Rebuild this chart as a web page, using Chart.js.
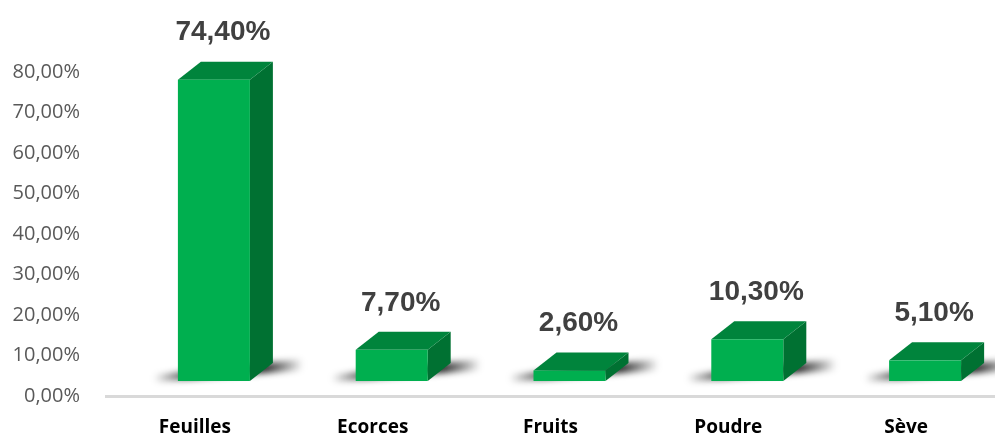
<!DOCTYPE html>
<html>
<head>
<meta charset="utf-8">
<script src="https://cdn.jsdelivr.net/npm/chart.js@4.4.0/dist/chart.umd.min.js"></script>
<style>
  html, body { margin: 0; padding: 0; background: #fff; }
  #wrap { width: 995px; height: 434px; }
</style>
</head>
<body>
<div id="wrap"><canvas id="partsChart"></canvas></div>
<script>
var categories = ["Feuilles", "Ecorces", "Fruits", "Poudre", "Sève"];
var shares = [74.4, 7.7, 2.6, 10.3, 5.1];
var yTicks = [0, 10, 20, 30, 40, 50, 60, 70, 80];

function pct(v) {
    return v.toFixed(2).replace(".", ",") + "%";
}

// bars are drawn as 3D blocks on top of the chart's bar elements
var blocks = {
    id: "blocks",
    afterDatasetsDraw: function (chart) {
        var ctx = chart.ctx;
        var meta = chart.getDatasetMeta(0);
        var shiftX = 19, shiftY = -15;   // floor offset of the 3D box
        var dx = 23, dy = -18;           // depth
        ctx.save();
        meta.data.forEach(function (bar) {
            var L = bar.x - bar.width / 2 + shiftX;
            var R = bar.x + bar.width / 2 + shiftX;
            var T = bar.y + shiftY;
            var B = bar.base + shiftY;

            // floor shadow
            ctx.save();
            ctx.filter = "blur(3px)";
            var g = ctx.createLinearGradient(L - 24, 0, R + dx + 30, 0);
            g.addColorStop(0, "rgba(0,0,0,0)");
            g.addColorStop(0.25, "rgba(20,20,20,0.9)");
            g.addColorStop(0.75, "rgba(20,20,20,0.9)");
            g.addColorStop(1, "rgba(0,0,0,0)");
            ctx.fillStyle = g;
            ctx.beginPath();
            ctx.moveTo(L - 24, B - 6);
            ctx.lineTo(R + dx + 30, B + dy - 4);
            ctx.lineTo(R + dx + 30, B + dy + 7);
            ctx.lineTo(L - 24, B + 1);
            ctx.closePath();
            ctx.fill();
            ctx.restore();

            // side face
            ctx.fillStyle = "#007132";
            ctx.beginPath();
            ctx.moveTo(R, T);
            ctx.lineTo(R + dx, T + dy);
            ctx.lineTo(R + dx, B + dy);
            ctx.lineTo(R, B);
            ctx.closePath();
            ctx.fill();

            // top face
            ctx.fillStyle = "#00843C";
            ctx.beginPath();
            ctx.moveTo(L, T);
            ctx.lineTo(L + dx, T + dy);
            ctx.lineTo(R + dx, T + dy);
            ctx.lineTo(R, T);
            ctx.closePath();
            ctx.fill();

            // front face
            ctx.fillStyle = "#00AF4F";
            ctx.fillRect(L, T, R - L, B - T);
        });

        ctx.fillStyle = "#404040";
        ctx.font = "bold 28px 'Liberation Sans', Arial, sans-serif";
        ctx.textAlign = "center";
        ctx.textBaseline = "middle";
        meta.data.forEach(function (bar, i) {
            ctx.fillText(pct(shares[i]), bar.x + shiftX + 9, bar.y + shiftY - 47);
        });
        ctx.restore();
    }
};

var ctx = document.getElementById("partsChart").getContext("2d");

new Chart(ctx, {
    type: "bar",
    data: {
        labels: categories,
        datasets: [
            {
                data: shares,
                backgroundColor: "rgba(0,0,0,0)",
                borderWidth: 0,
                barThickness: 72,
            },
        ],
    },
    options: {
        responsive: true,
        maintainAspectRatio: false,
        animation: false,
        layout: {
            padding: { top: 72, left: 10, right: 0, bottom: 0 },
        },
        scales: {
            x: {
                grid: { display: false },
                border: { color: "#D9D9D9", width: 3 },
                afterFit: function (scale) {
                    scale.height = 38;
                },
                ticks: {
                    color: "#000",
                    padding: 12,
                    font: { family: "'Open Sans', sans-serif", size: 19, weight: "bold" },
                },
            },
            y: {
                min: 0,
                max: 80,
                afterBuildTicks: function (axis) {
                    axis.ticks = yTicks.map(function (v) { return { value: v }; });
                },
                afterFit: function (scale) {
                    scale.width = 96;
                },
                grid: { display: false, drawTicks: false },
                border: { display: false },
                ticks: {
                    color: "#595959",
                    padding: 26,
                    font: { family: "'Open Sans', sans-serif", size: 20 },
                    callback: function (value) { return pct(value); },
                },
            },
        },
        plugins: {
            legend: { display: false },
            tooltip: { enabled: false },
        },
    },
    plugins: [blocks],
});
</script>
</body>
</html>
